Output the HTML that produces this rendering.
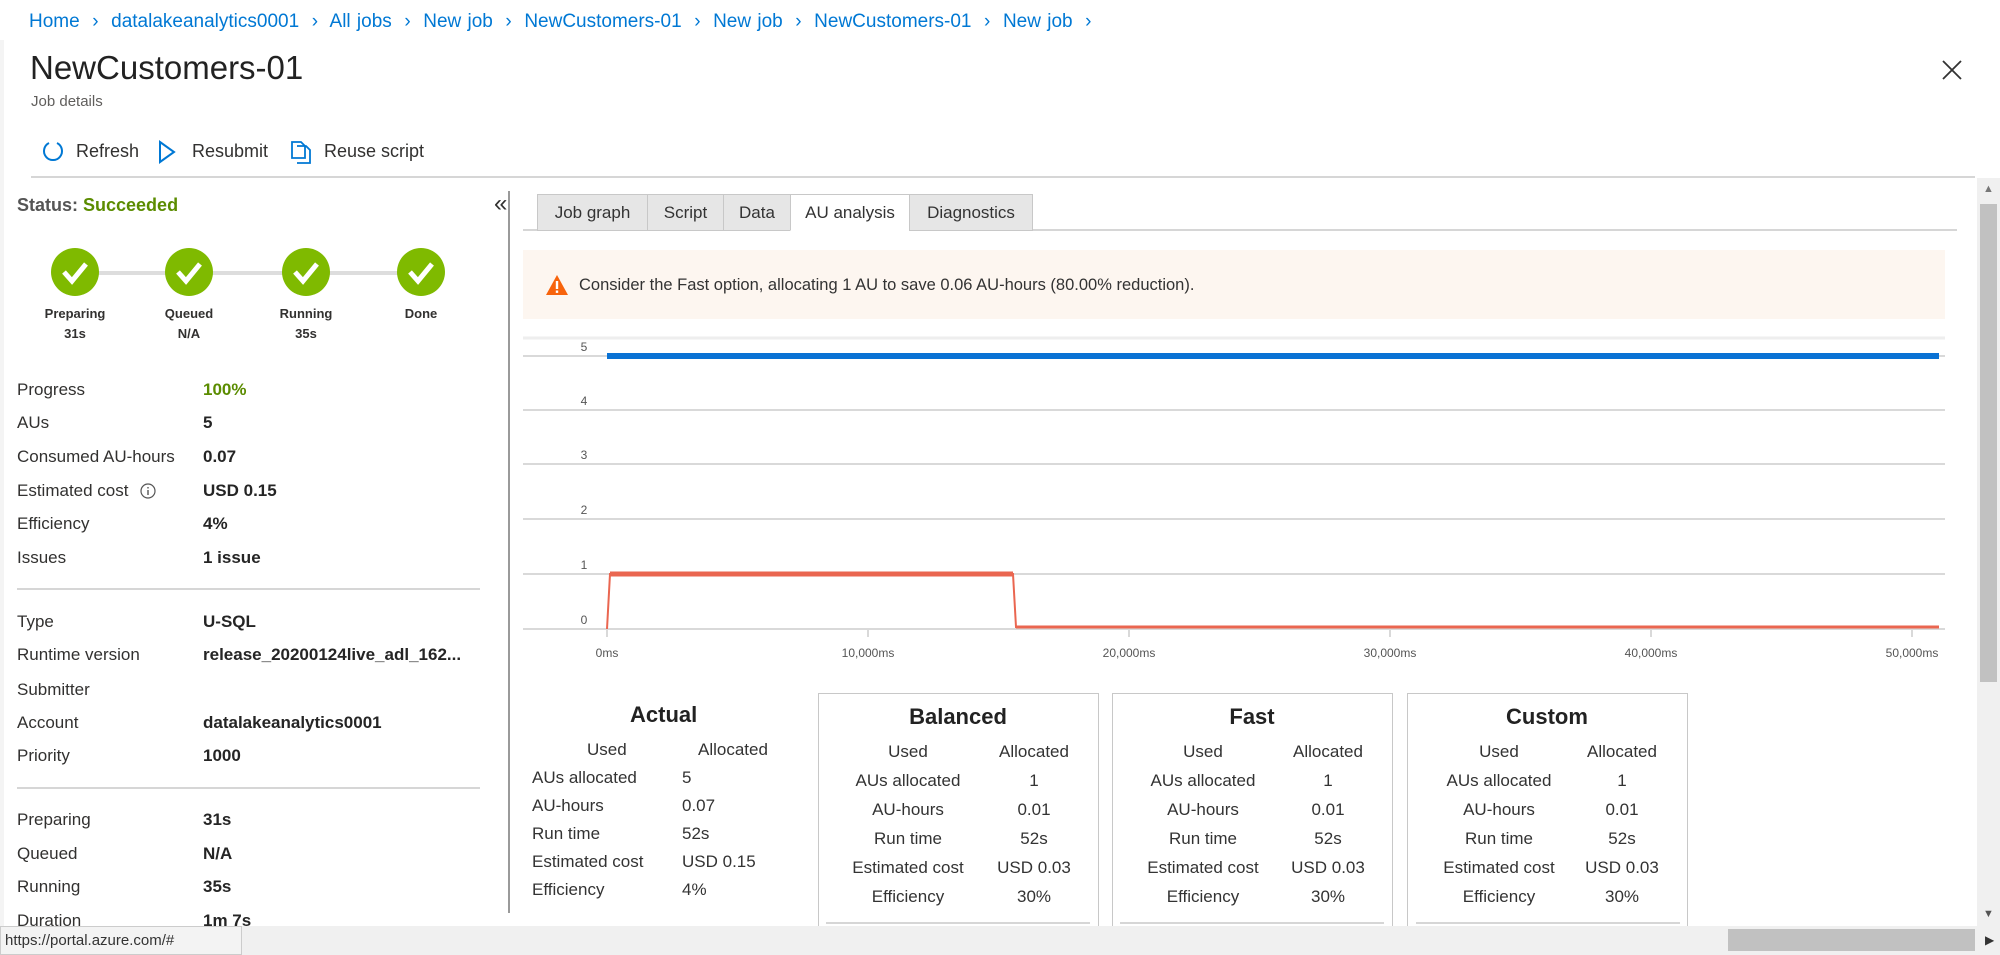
<!DOCTYPE html>
<html><head><meta charset="utf-8"><style>
*{margin:0;padding:0;box-sizing:border-box}
body{width:2000px;height:955px;overflow:hidden;background:#fff;font-family:"Liberation Sans",sans-serif;color:#323130;position:relative}
.a{position:absolute;white-space:nowrap}
.bc{top:11px;font-size:19px;color:#0078d4;word-spacing:1px}
.lbl{font-size:17px;color:#323130;line-height:22px}
.val{font-size:17px;font-weight:bold;color:#252525;line-height:22px}
.hl{position:absolute;height:2px;background:#d6d6d6}
.tab{position:absolute;top:194px;height:37px;border:1px solid #c8c8c8;background:#e6e6e6;font-size:17px;line-height:35px;text-align:center;color:#333}
.circ{position:absolute;width:48px;height:48px;border-radius:50%;background:#7fba00;top:248px}
.stl{font-size:13px;font-weight:bold;text-align:center;width:90px}
.card{position:absolute;top:693px;height:240px;border:1px solid #c8c8c8;border-bottom:none}
.ct{font-size:17px;color:#333}
</style></head><body>
<div class="a bc" style="left:29px">Home &nbsp;›&nbsp; datalakeanalytics0001 &nbsp;›&nbsp; All jobs &nbsp;›&nbsp; New job &nbsp;›&nbsp; NewCustomers-01 &nbsp;›&nbsp; New job &nbsp;›&nbsp; NewCustomers-01 &nbsp;›&nbsp; New job &nbsp;›</div>
<div class="a" style="left:0;top:40px;width:4px;height:890px;background:#f4f4f4"></div>
<div class="a" style="left:30px;top:49px;font-size:33px;color:#222">NewCustomers-01</div>
<div class="a" style="left:31px;top:93px;font-size:15px;color:#605e5c">Job details</div>
<svg class="a" style="left:1942px;top:60px" width="20" height="20"><path d="M1 1L19 19M19 1L1 19" stroke="#333" stroke-width="1.8"/></svg>
<svg class="a" style="left:41px;top:139px" width="24" height="26"><path d="M8 4 A9 9 0 1 0 16 4" fill="none" stroke="#0078d4" stroke-width="2"/></svg>
<div class="a" style="left:76px;top:141px;font-size:18px">Refresh</div>
<svg class="a" style="left:157px;top:140px" width="20" height="24"><path d="M3 2 L17 12 L3 22Z" fill="none" stroke="#0078d4" stroke-width="2"/></svg>
<div class="a" style="left:192px;top:141px;font-size:18px">Resubmit</div>
<svg class="a" style="left:290px;top:140px" width="22" height="24"><path d="M2 2h9l4 4v12H2z M7 6h9l4 4v13H7" fill="none" stroke="#0078d4" stroke-width="1.8"/></svg>
<div class="a" style="left:324px;top:141px;font-size:18px">Reuse script</div>
<div class="hl" style="left:31px;top:176px;width:1944px"></div>

<div class="a" style="left:17px;top:195px;font-size:18px;font-weight:bold;color:#555">Status: <span style="color:#5b8c00">Succeeded</span></div>
<div class="a" style="left:494px;top:190px;font-size:24px">«</div>
<div class="hl" style="left:75px;top:271px;width:346px;height:4px;background:#ddd"></div>
<div class="circ" style="left:51px"></div><div class="circ" style="left:165px"></div><div class="circ" style="left:282px"></div><div class="circ" style="left:397px"></div>
<svg class="a" style="left:0;top:248px" width="500" height="50"><g fill="none" stroke="#fff" stroke-width="5"><path d="M64 24l8 9 14-17"/><path d="M178 24l8 9 14-17"/><path d="M295 24l8 9 14-17"/><path d="M410 24l8 9 14-17"/></g></svg>
<div class="a stl" style="left:30px;top:306px">Preparing<br><span style="line-height:26px">31s</span></div>
<div class="a stl" style="left:144px;top:306px">Queued<br><span style="line-height:26px">N/A</span></div>
<div class="a stl" style="left:261px;top:306px">Running<br><span style="line-height:26px">35s</span></div>
<div class="a stl" style="left:376px;top:306px">Done</div>

<div class="a lbl" style="left:17px;top:379px">Progress</div><div class="a val" style="left:203px;top:379px;color:#5b8c00">100%</div>
<div class="a lbl" style="left:17px;top:412px">AUs</div><div class="a val" style="left:203px;top:412px">5</div>
<div class="a lbl" style="left:17px;top:446px">Consumed AU-hours</div><div class="a val" style="left:203px;top:446px">0.07</div>
<div class="a lbl" style="left:17px;top:480px">Estimated cost</div>
<svg class="a" style="left:139px;top:482px" width="18" height="18"><circle cx="9" cy="9" r="7" fill="none" stroke="#555" stroke-width="1.2"/><rect x="8.3" y="8" width="1.4" height="5" fill="#555"/><rect x="8.3" y="5" width="1.4" height="1.5" fill="#555"/></svg>
<div class="a val" style="left:203px;top:480px">USD 0.15</div>
<div class="a lbl" style="left:17px;top:513px">Efficiency</div><div class="a val" style="left:203px;top:513px">4%</div>
<div class="a lbl" style="left:17px;top:547px">Issues</div><div class="a val" style="left:203px;top:547px">1 issue</div>
<div class="hl" style="left:17px;top:588px;width:463px"></div>
<div class="a lbl" style="left:17px;top:611px">Type</div><div class="a val" style="left:203px;top:611px">U-SQL</div>
<div class="a lbl" style="left:17px;top:644px">Runtime version</div><div class="a val" style="left:203px;top:644px">release_20200124live_adl_162...</div>
<div class="a lbl" style="left:17px;top:679px">Submitter</div>
<div class="a lbl" style="left:17px;top:712px">Account</div><div class="a val" style="left:203px;top:712px">datalakeanalytics0001</div>
<div class="a lbl" style="left:17px;top:745px">Priority</div><div class="a val" style="left:203px;top:745px">1000</div>
<div class="hl" style="left:17px;top:787px;width:463px"></div>
<div class="a lbl" style="left:17px;top:809px">Preparing</div><div class="a val" style="left:203px;top:809px">31s</div>
<div class="a lbl" style="left:17px;top:843px">Queued</div><div class="a val" style="left:203px;top:843px">N/A</div>
<div class="a lbl" style="left:17px;top:876px">Running</div><div class="a val" style="left:203px;top:876px">35s</div>
<div class="a lbl" style="left:17px;top:910px">Duration</div><div class="a val" style="left:203px;top:910px">1m 7s</div>
<div class="a" style="left:508px;top:191px;width:2px;height:722px;background:#9a9a9a"></div>

<div class="hl" style="left:523px;top:229px;width:1434px"></div>
<div class="tab" style="left:537px;width:111px">Job graph</div>
<div class="tab" style="left:647px;width:77px">Script</div>
<div class="tab" style="left:723px;width:68px">Data</div>
<div class="tab" style="left:790px;width:120px;background:#fff;border-bottom-color:#fff">AU analysis</div>
<div class="tab" style="left:909px;width:124px">Diagnostics</div>

<div class="a" style="left:523px;top:250px;width:1422px;height:69px;background:#fdf6f0"></div>
<svg class="a" style="left:545px;top:274px" width="24" height="22"><path d="M12 1L23 21H1Z" fill="#f7630c"/><rect x="10.8" y="7" width="2.4" height="8" fill="#fff"/><rect x="10.8" y="16.5" width="2.4" height="2.4" fill="#fff"/></svg>
<div class="a" style="left:579px;top:276px;font-size:16.5px;color:#333">Consider the Fast option, allocating 1 AU to save 0.06 AU-hours (80.00% reduction).</div>

<svg class="a" style="left:0;top:0" width="2000" height="700">
<g stroke="#d9d9d9" stroke-width="2">
<line x1="523" y1="338" x2="1945" y2="338" stroke="#eee" stroke-width="3"/>
<line x1="523" y1="356" x2="1945" y2="356"/><line x1="523" y1="410" x2="1945" y2="410"/>
<line x1="523" y1="464" x2="1945" y2="464"/><line x1="523" y1="519" x2="1945" y2="519"/>
<line x1="523" y1="574" x2="1945" y2="574"/><line x1="523" y1="629" x2="1945" y2="629"/>
<line x1="607" y1="630" x2="607" y2="637"/><line x1="868" y1="630" x2="868" y2="637"/><line x1="1129" y1="630" x2="1129" y2="637"/><line x1="1390" y1="630" x2="1390" y2="637"/><line x1="1651" y1="630" x2="1651" y2="637"/><line x1="1912" y1="630" x2="1912" y2="637"/>
</g>
<g font-family="Liberation Sans" font-size="12" fill="#555" text-anchor="middle">
<text x="584" y="351">5</text><text x="584" y="405">4</text><text x="584" y="459">3</text><text x="584" y="514">2</text><text x="584" y="569">1</text><text x="584" y="624">0</text>
<text x="607" y="657">0ms</text><text x="868" y="657">10,000ms</text><text x="1129" y="657">20,000ms</text><text x="1390" y="657">30,000ms</text><text x="1651" y="657">40,000ms</text><text x="1912" y="657">50,000ms</text>
</g>
<line x1="607" y1="356" x2="1939" y2="356" stroke="#0a72d4" stroke-width="6"/>
<polyline points="607,629 610,574 1013,574 1016,627 1939,627" fill="none" stroke="#ea6650" stroke-width="2"/>
<line x1="610" y1="574" x2="1013" y2="574" stroke="#ea6650" stroke-width="5"/>
<line x1="1016" y1="627" x2="1939" y2="627" stroke="#ea6650" stroke-width="3"/>
</svg>

<div class="a" style="left:630px;top:702px;font-size:22px;font-weight:bold;color:#222">Actual</div>
<div class="a ct" style="left:587px;top:740px">Used</div><div class="a ct" style="left:698px;top:740px">Allocated</div>
<div class="a ct" style="left:532px;top:768px">AUs allocated</div><div class="a ct" style="left:682px;top:768px">5</div>
<div class="a ct" style="left:532px;top:796px">AU-hours</div><div class="a ct" style="left:682px;top:796px">0.07</div>
<div class="a ct" style="left:532px;top:824px">Run time</div><div class="a ct" style="left:682px;top:824px">52s</div>
<div class="a ct" style="left:532px;top:852px">Estimated cost</div><div class="a ct" style="left:682px;top:852px">USD 0.15</div>
<div class="a ct" style="left:532px;top:880px">Efficiency</div><div class="a ct" style="left:682px;top:880px">4%</div>

<div class="card" style="left:818px;width:281px"></div>
<div class="card" style="left:1112px;width:281px"></div>
<div class="card" style="left:1407px;width:281px"></div>
<div class="hl" style="left:826px;top:922px;width:264px"></div>
<div class="hl" style="left:1120px;top:922px;width:264px"></div>
<div class="hl" style="left:1416px;top:922px;width:264px"></div>
<div id="cards"></div>
<script>
var cs=[["Balanced",958,908,1034],["Fast",1252,1203,1328],["Custom",1547,1499,1622]];
var rows=[["Used","Allocated"],["AUs allocated","1"],["AU-hours","0.01"],["Run time","52s"],["Estimated cost","USD 0.03"],["Efficiency","30%"]];
var h="";
cs.forEach(function(c){
h+='<div class="a" style="left:'+(c[1]-150)+'px;width:300px;text-align:center;top:704px;font-size:22px;font-weight:bold;color:#222">'+c[0]+'</div>';
rows.forEach(function(r,i){var y=742+i*29;
h+='<div class="a ct" style="left:'+(c[2]-100)+'px;width:200px;text-align:center;top:'+y+'px">'+r[0]+'</div>';
h+='<div class="a ct" style="left:'+(c[3]-60)+'px;width:120px;text-align:center;top:'+y+'px">'+r[1]+'</div>';});
});
document.getElementById("cards").innerHTML=h;
</script>

<div class="a" style="left:1977px;top:178px;width:23px;height:748px;background:#f0f0f0"></div>
<div class="a" style="left:1980px;top:204px;width:17px;height:478px;background:#c1c1c1"></div>
<div class="a" style="left:1983px;top:183px;font-size:11px;color:#777">▲</div>
<div class="a" style="left:1983px;top:908px;font-size:11px;color:#555">▼</div>
<div class="a" style="left:0;top:926px;width:2000px;height:29px;background:#f0f0f0"></div>
<div class="a" style="left:1728px;top:929px;width:247px;height:22px;background:#c1c1c1"></div>
<div class="a" style="left:1985px;top:933px;font-size:12px;color:#333">▶</div>
<div class="a" style="left:0;top:926px;width:242px;height:29px;background:#f3f3f3;border:1px solid #ccc;font-size:15px;line-height:27px;padding-left:4px;color:#333">https://portal.azure.com/#</div>
</body></html>
